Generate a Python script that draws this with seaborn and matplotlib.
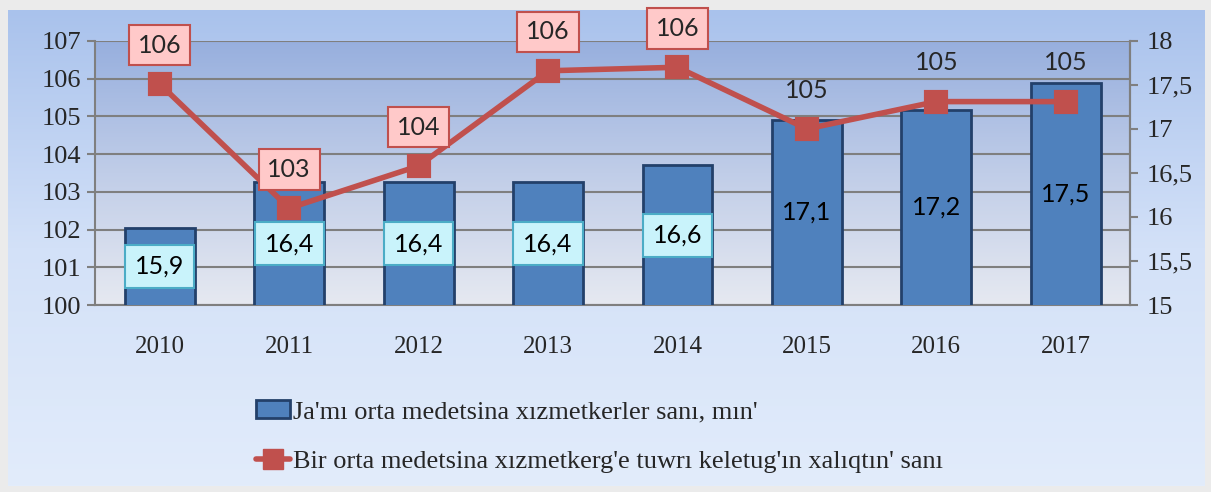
import numpy as np
import matplotlib
matplotlib.use("Agg")
import matplotlib.pyplot as plt
from matplotlib.patches import Patch
from matplotlib.lines import Line2D
import pandas as pd
import seaborn as sns

years = ["2010", "2011", "2012", "2013", "2014", "2015", "2016", "2017"]
# bar heights on left axis and the labels printed on them
bar_vals = [102.05, 103.25, 103.25, 103.25, 103.7, 104.9, 105.17, 105.87]
bar_labels = ["15,9", "16,4", "16,4", "16,4", "16,6", "17,1", "17,2", "17,5"]
# line values on right axis and the labels printed above them
line_vals = [17.51, 16.1, 16.58, 17.66, 17.7, 17.0, 17.31, 17.31]
line_labels = ["106", "103", "104", "106", "106", "105", "105", "105"]
boxed = [True, True, True, True, True, False, False, False]

bar_name = "Ja'mı orta medetsina xızmetkerler sanı, mın'"
line_name = "Bir orta medetsina xızmetkerg'e tuwrı keletug'ın xalıqtın' sanı"

bar_color = "#4f81bd"
line_color = "#c0504d"
serif = "Liberation Serif"
label_font = "Lato"

df = pd.DataFrame({"year": years, "bar": bar_vals, "line": line_vals})

sns.set_style("white")
plt.rcParams["font.family"] = [serif, "DejaVu Sans"]

fig = plt.figure(figsize=(12.11, 4.92), dpi=100)
fig.patch.set_facecolor("#ebebeb")

# chart frame background with vertical gradient
bg = fig.add_axes([0.007, 0.012, 0.988, 0.968], zorder=-5)
grad = np.linspace(0, 1, 256).reshape(-1, 1)
cmap_bg = matplotlib.colors.LinearSegmentedColormap.from_list("bg", ["#a9c2ec", "#d3e1f8", "#e2ecfb"])
bg.imshow(grad, aspect="auto", cmap=cmap_bg, extent=[0, 1, 0, 1])
bg.set_axis_off()

ax = fig.add_axes([0.0785, 0.38, 0.855, 0.537])
cmap_ax = matplotlib.colors.LinearSegmentedColormap.from_list("ax", ["#97afde", "#c0cde8", "#e6e9f1"])
ax.imshow(grad, aspect="auto", cmap=cmap_ax, extent=[0, 1, 0, 1], transform=ax.transAxes, zorder=0)

sns.barplot(data=df, x="year", y="bar", ax=ax, color=bar_color, width=0.54,
            edgecolor="#23406a", linewidth=2, saturation=1, zorder=3)
ax.set_ylim(100, 107)
ax.set_xlim(-0.5, 7.5)
ax.set_yticks(range(100, 108), [str(v) for v in range(100, 108)], fontfamily=serif, fontsize=19)
ax.yaxis.grid(True, color="#7f7f7f", linewidth=1.5, zorder=1)
ax.set_axisbelow(True)
ax.set_xlabel("")
ax.set_ylabel("")
ax.set_xticks(range(len(years)), years, fontfamily=serif, fontsize=18)
ax.set_xticks(np.arange(-0.5, 8, 1), minor=True)
ax.tick_params(axis="x", which="major", length=0, pad=22)
ax.tick_params(axis="x", which="minor", length=6, color="#7f7f7f", width=1.5, direction="out")
ax.tick_params(axis="y", length=6, color="#7f7f7f", width=1.5, direction="out", pad=4)
ax.spines["top"].set_visible(False)
for s in ["left", "bottom", "right"]:
    ax.spines[s].set_color("#7f7f7f")
    ax.spines[s].set_linewidth(1.5)

for i in range(len(years)):
    y = 100 + (bar_vals[i] - 100) / 2
    bbox = dict(boxstyle="square,pad=0.4", fc="#c9f3fb", ec="#4bacc6", lw=1.5) if boxed[i] else None
    ax.text(i, y, bar_labels[i], ha="center", va="center", fontsize=18,
            fontfamily=label_font, color="black", bbox=bbox, zorder=6)

ax2 = ax.twinx()
sns.pointplot(data=df, x="year", y="line", ax=ax2, color=line_color, markers="s",
              markersize=14, linewidth=4)
ax2.set_ylim(15, 18)
ax2.set_xlim(-0.5, 7.5)
ticks_r = np.arange(15, 18.01, 0.5)
ax2.set_yticks(ticks_r, [f"{v:g}".replace(".", ",") for v in ticks_r], fontfamily=serif, fontsize=19)
ax2.set_ylabel("")
ax2.set_xlabel("")
ax2.tick_params(axis="y", length=6, color="#7f7f7f", width=1.5, direction="out", pad=6)
for s in ["left", "top", "bottom"]:
    ax2.spines[s].set_visible(False)
ax2.spines["right"].set_color("#7f7f7f")
ax2.spines["right"].set_linewidth(1.5)

for i in range(len(years)):
    bbox = dict(boxstyle="square,pad=0.35", fc="#ffc9c9", ec=line_color, lw=1.5) if boxed[i] else None
    ax2.annotate(line_labels[i], (i, line_vals[i]), xytext=(0, 28), textcoords="offset points",
                 ha="center", va="center", fontsize=18, fontfamily=label_font, bbox=bbox, zorder=6)

handles = [Patch(facecolor=bar_color, edgecolor="#23406a", linewidth=2),
           Line2D([0], [0], color=line_color, lw=4, marker="s", markersize=14)]
fig.legend(handles, [bar_name, line_name], loc="upper left",
           bbox_to_anchor=(232 / 1211, 1 - 376 / 492), frameon=False,
           prop={"family": serif, "size": 19}, handlelength=1.3, handletextpad=0.1,
           labelspacing=1.0)

fig.savefig("out.png", dpi=100, facecolor=fig.get_facecolor())
